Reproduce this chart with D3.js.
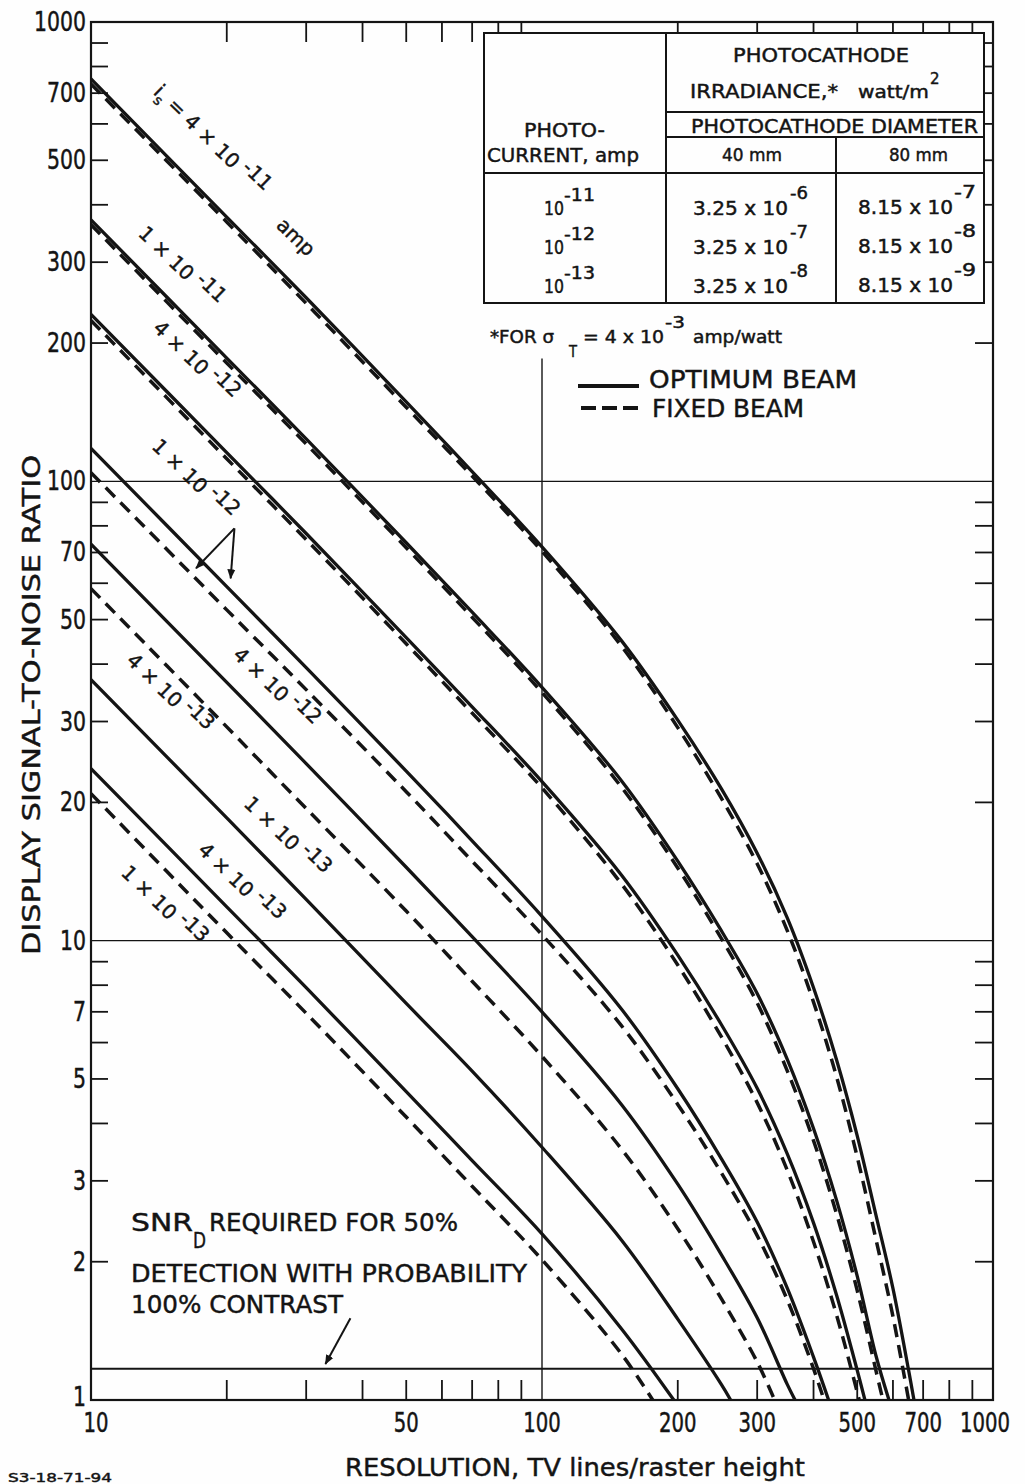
<!DOCTYPE html>
<html><head><meta charset="utf-8">
<script src="https://cdn.jsdelivr.net/npm/d3@7"></script>
<style>
html,body{margin:0;padding:0;background:#fff;}
svg{display:block;}
svg text{stroke:#141414;stroke-width:0.45px;}
</style></head><body>
<svg id="chart" width="1025" height="1484"></svg>
<script>
// ---------------- DATA ----------------
// Each series: [resolution (TV lines/raster height), display SNR]
const optA = [[10,752],[20,376],[30,251],[50,149],[70,105],[100,72],[150,45],[200,30.2],[250,21.4],[300,15.5],[350,11.2],[400,7.9],[450,5.5],[500,3.76],[550,2.53],[600,1.75],[650,1.16],[668,1.0]];
const fixA = [[10,733],[20,367],[30,244],[50,145],[70,102.7],[100,70.4],[150,43.8],[200,29.1],[250,20.4],[300,14.7],[350,10.5],[400,7.35],[450,5.05],[500,3.38],[550,2.24],[600,1.52],[650,1.0]];
const optB = [[10,371],[20,185.5],[30,123.7],[50,73.5],[70,51.9],[100,35.6],[150,22.3],[200,14.9],[250,10.5],[300,7.67],[350,5.51],[400,3.9],[450,2.72],[500,1.86],[550,1.25],[588,1.0]];
const fixB = [[10,362],[20,181],[30,120.6],[50,71.7],[70,50.6],[100,34.7],[150,21.6],[200,14.4],[250,10.1],[300,7.32],[350,5.2],[400,3.67],[450,2.54],[500,1.73],[550,1.16],[570,1.0]];
const optC = [[10,231],[20,115.5],[30,77],[50,45.7],[70,32.3],[100,22.2],[150,13.9],[200,9.3],[250,6.56],[300,4.77],[350,3.43],[400,2.43],[450,1.69],[500,1.16],[520,1.0]];
const fixC = [[10,224],[20,112],[30,74.7],[50,44.3],[70,31.3],[100,21.5],[150,13.3],[200,8.85],[250,6.17],[300,4.44],[350,3.16],[400,2.21],[450,1.53],[500,1.04],[505,1.0]];
const optD = [[10,118],[20,59],[30,39.3],[50,23.4],[70,16.5],[100,11.3],[150,7.1],[200,4.76],[250,3.35],[300,2.44],[350,1.75],[400,1.24],[432,1.0]];
const fixD = [[10,104.4],[20,52.5],[30,35.2],[50,21.1],[70,14.9],[100,10.3],[150,6.53],[200,4.4],[250,3.12],[300,2.28],[350,1.65],[400,1.17],[422,1.0]];
const optE = [[10,73],[20,36.5],[30,24.3],[50,14.45],[70,10.2],[100,7.0],[150,4.4],[200,2.95],[250,2.07],[300,1.51],[350,1.08],[364,1.0]];
const fixE = [[10,58.4],[20,29.2],[30,19.4],[50,11.6],[70,8.16],[100,5.6],[150,3.52],[200,2.36],[250,1.66],[300,1.21],[328,1.0]];
const optF = [[10,37],[20,18.5],[30,12.3],[50,7.3],[70,5.2],[100,3.55],[150,2.23],[200,1.5],[250,1.08],[262,1.0]];
const optG = [[10,23.7],[20,11.85],[30,7.9],[50,4.69],[70,3.32],[100,2.3],[150,1.43],[196,1.0]];
const fixG = [[10,20.9],[20,10.4],[30,6.95],[50,4.13],[70,2.92],[100,2.02],[150,1.26],[176,1.0]];

const xTickLabels = [10,50,100,200,300,500,700,1000];
const yTickLabels = [1,2,3,5,7,10,20,30,50,70,100,200,300,500,700,1000];
const snrRequired = 1.17;

// curve labels: [resolution, SNR, base text, exponent]
const curveLabels = [
  [15.4, 286, "1 × 10", "-11"],
  [16.6, 178, "4 × 10", "-12"],
  [16.5, 98.4, "1 × 10", "-12"],
  [25.0, 34.6, "4 × 10", "-12"],
  [14.5, 33.6, "4 × 10", "-13"],
  [26.4, 16.4, "1 × 10", "-13"],
  [20.9, 13.0, "4 × 10", "-13"],
  [14.1, 11.6, "1 × 10", "-13"]
];
const mainLabelPos = [18.0, 540];
const ampLabelPos = [27.8, 332];
const arrowApex = [20.8, 79];
const arrowTips = [[17.1, 64.7],[20.4, 61.5]];
const snrArrow = [[37.6, 1.507],[33.1, 1.198]];

const tableCurrents = ["-11","-12","-13"];
const table40 = [["3.25 x 10","-6"],["3.25 x 10","-7"],["3.25 x 10","-8"]];
const table80 = [["8.15 x 10","-7"],["8.15 x 10","-8"],["8.15 x 10","-9"]];

// ---------------- DRAWING ----------------
const svg = d3.select("#chart");
const INK = "#141414";
const FONT = "'DejaVu Sans', 'Liberation Sans', sans-serif";
const NARROW = "'Liberation Sans Narrow', 'DejaVu Sans Condensed', 'Liberation Sans', sans-serif";

const x = d3.scaleLog().domain([10,1000]).range([91,993]);
const y = d3.scaleLog().domain([1,1000]).range([1400,22]);
const [x0,x1] = x.range(), [y0,y1] = y.range();

svg.append("rect").attr("width",1025).attr("height",1484).attr("fill","#fefefe");

const defs = svg.append("defs");
defs.append("clipPath").attr("id","plot")
  .append("rect").attr("x",x0).attr("y",y1).attr("width",x1-x0).attr("height",y0-y1);
defs.append("marker").attr("id","ah").attr("viewBox","0 0 10 10").attr("refX",9).attr("refY",5)
  .attr("markerWidth",10).attr("markerHeight",10).attr("markerUnits","userSpaceOnUse").attr("orient","auto")
  .append("path").attr("d","M0,1 L10,5 L0,9 z").attr("fill",INK);

// gridlines
const grid = svg.append("g").attr("stroke",INK).attr("stroke-width",1.4);
[100,10].forEach(v => grid.append("line").attr("x1",x0).attr("x2",x1).attr("y1",y(v)).attr("y2",y(v)));
grid.append("line").attr("x1",x(100)).attr("x2",x(100)).attr("y1",y0).attr("y2",y(185));
svg.append("line").attr("x1",x0).attr("x2",x1).attr("y1",y(snrRequired)).attr("y2",y(snrRequired))
  .attr("stroke",INK).attr("stroke-width",2);

// curves
const line = d3.line().x(d=>x(d[0])).y(d=>y(d[1])).curve(d3.curveCatmullRom.alpha(0.5));
const curves = svg.append("g").attr("clip-path","url(#plot)").attr("fill","none").attr("stroke",INK);
[optA,optB,optC,optD,optE,optF,optG].forEach(s =>
  curves.append("path").attr("d",line(s)).attr("stroke-width",3.3));
[fixA,fixB,fixC,fixD,fixE,fixG].forEach(s =>
  curves.append("path").attr("d",line(s)).attr("stroke-width",3.5).attr("stroke-dasharray","13,8"));

// axes frame & ticks
svg.append("rect").attr("x",x0).attr("y",y1).attr("width",x1-x0).attr("height",y0-y1)
  .attr("fill","none").attr("stroke",INK).attr("stroke-width",2.2);
const ticks = svg.append("g").attr("stroke",INK).attr("stroke-width",1.8);
const minorX = [];
[10,100].forEach(d => { for (let k=2;k<=9;k++) minorX.push(d*k); });
minorX.forEach(v => {
  ticks.append("line").attr("x1",x(v)).attr("x2",x(v)).attr("y1",y0).attr("y2",y0-20);
  ticks.append("line").attr("x1",x(v)).attr("x2",x(v)).attr("y1",y1).attr("y2",y1+20);
});
const minorY = [];
[1,10,100].forEach(d => { for (let k=2;k<=9;k++) minorY.push(d*k); });
minorY.forEach(v => {
  ticks.append("line").attr("x1",x0).attr("x2",x0+17).attr("y1",y(v)).attr("y2",y(v));
  ticks.append("line").attr("x1",x1).attr("x2",x1-18).attr("y1",y(v)).attr("y2",y(v));
});

// tick labels
svg.append("g").selectAll("text").data(xTickLabels).join("text")
  .attr("x",d=>x(d)+(d===10?5:(d===1000?-8:0))).attr("y",1432).attr("text-anchor","middle")
  .attr("font-family",NARROW).attr("font-size",26).attr("fill",INK)
  .attr("textLength",d=>String(d).length*12.5).attr("lengthAdjust","spacingAndGlyphs")
  .text(d=>d);
svg.append("g").selectAll("text").data(yTickLabels).join("text")
  .attr("x",86).attr("y",d=>y(d)+(d===1?6:9)).attr("text-anchor","end")
  .attr("font-family",NARROW).attr("font-size",27).attr("fill",INK)
  .attr("textLength",d=>String(d).length*13).attr("lengthAdjust","spacingAndGlyphs")
  .text(d=>d);

// axis titles
svg.append("text").attr("transform","translate(40,705) rotate(-90)").attr("text-anchor","middle")
  .attr("font-family",FONT).attr("font-size",24).attr("fill",INK)
  .attr("textLength",500).attr("lengthAdjust","spacingAndGlyphs")
  .text("DISPLAY SIGNAL-TO-NOISE RATIO");
svg.append("text").attr("x",575).attr("y",1476).attr("text-anchor","middle")
  .attr("font-family",FONT).attr("font-size",25).attr("fill",INK)
  .attr("textLength",460).attr("lengthAdjust","spacingAndGlyphs")
  .text("RESOLUTION, TV lines/raster height");
svg.append("text").attr("x",8).attr("y",1482).attr("font-family",FONT).attr("font-size",13).attr("fill",INK)
  .attr("textLength",104).attr("lengthAdjust","spacingAndGlyphs").text("S3-18-71-94");

// curve labels
const ANG = 44;
function rotLabel(pos, base, exp) {
  const t = svg.append("text")
    .attr("transform",`translate(${x(pos[0])},${y(pos[1])}) rotate(${ANG})`)
    .attr("text-anchor","middle").attr("font-family",FONT).attr("font-size",20).attr("fill",INK);
  t.append("tspan").text(base);
  t.append("tspan").attr("dy",-7).text(" " + exp);
  return t;
}
curveLabels.forEach(d => rotLabel([d[0],d[1]], d[2], d[3]));
{
  const t = svg.append("text")
    .attr("transform",`translate(${x(mainLabelPos[0])},${y(mainLabelPos[1])}) rotate(${ANG})`)
    .attr("text-anchor","middle").attr("font-family",FONT).attr("font-size",20).attr("fill",INK);
  t.append("tspan").text("i");
  t.append("tspan").attr("dy",6).attr("font-size",14).text("s");
  t.append("tspan").attr("dy",-6).text(" = 4 × 10");
  t.append("tspan").attr("dy",-7).text(" -11");
  svg.append("text")
    .attr("transform",`translate(${x(ampLabelPos[0])},${y(ampLabelPos[1])}) rotate(${ANG})`)
    .attr("text-anchor","middle").attr("font-family",FONT).attr("font-size",20).attr("fill",INK)
    .text("amp");
}

// arrows for 1x10-12
arrowTips.forEach(tp => svg.append("line")
  .attr("x1",x(arrowApex[0])).attr("y1",y(arrowApex[1])).attr("x2",x(tp[0])).attr("y2",y(tp[1]))
  .attr("stroke",INK).attr("stroke-width",2).attr("marker-end","url(#ah)"));
svg.append("line").attr("x1",x(snrArrow[0][0])).attr("y1",y(snrArrow[0][1]))
  .attr("x2",x(snrArrow[1][0])).attr("y2",y(snrArrow[1][1]))
  .attr("stroke",INK).attr("stroke-width",2).attr("marker-end","url(#ah)");

// SNR required annotation
function txt(xp, yp, s, size, len, anchor) {
  const t = svg.append("text").attr("x",xp).attr("y",yp).attr("font-family",FONT)
    .attr("font-size",size).attr("fill",INK).text(s);
  if (len) t.attr("textLength",len).attr("lengthAdjust","spacingAndGlyphs");
  if (anchor) t.attr("text-anchor",anchor);
  return t;
}
txt(131,1231,"SNR",25,62);
txt(193,1248,"D",22,13);
txt(209,1231,"REQUIRED FOR 50%",25,249);
txt(131,1282,"DETECTION WITH PROBABILITY",25,396);
txt(131,1313,"100% CONTRAST",25,212);

// table (white box hides gridline/ticks under it)
svg.append("rect").attr("x",484).attr("y",33).attr("width",500).attr("height",270)
  .attr("fill","#fefefe").attr("stroke",INK).attr("stroke-width",2);
const tl = svg.append("g").attr("stroke",INK).attr("stroke-width",2);
tl.append("line").attr("x1",666).attr("x2",666).attr("y1",33).attr("y2",303);
tl.append("line").attr("x1",666).attr("x2",984).attr("y1",112).attr("y2",112);
tl.append("line").attr("x1",666).attr("x2",984).attr("y1",137).attr("y2",137);
tl.append("line").attr("x1",836).attr("x2",836).attr("y1",137).attr("y2",303);
tl.append("line").attr("x1",484).attr("x2",984).attr("y1",173).attr("y2",173);

txt(821,62,"PHOTOCATHODE",19,176,"middle");
txt(690,98,"IRRADIANCE,*",19,148);
txt(858,98,"watt/m",17,71);
txt(930,84,"2",15);
txt(691,133,"PHOTOCATHODE DIAMETER",19,287);
txt(524,137,"PHOTO-",19,81);
txt(487,162,"CURRENT, amp",19,152);
txt(722,161,"40 mm",17,60);
txt(889,161,"80 mm",17,59);
const rowBase = [215,254,293];
tableCurrents.forEach((e,i) => { txt(544,rowBase[i],"10",19,20); txt(564,rowBase[i]-14,e,17,31); });
table40.forEach((d,i) => { txt(693,rowBase[i],d[0],19,95); txt(790,rowBase[i]-16,d[1],17,18); });
table80.forEach((d,i) => { txt(858,rowBase[i]-1,d[0],19,95); txt(954,rowBase[i]-17,d[1],17,22); });

// footnote
txt(490,343,"*FOR σ",17,64);
txt(569,357,"T",16,8);
txt(583,343,"= 4 x 10",17,81);
txt(665,328,"-3",15,20);
txt(693,343,"amp/watt",17,89);

// legend
svg.append("line").attr("x1",578).attr("x2",639).attr("y1",386).attr("y2",386)
  .attr("stroke",INK).attr("stroke-width",4);
svg.append("line").attr("x1",581).attr("x2",639).attr("y1",408).attr("y2",408)
  .attr("stroke",INK).attr("stroke-width",4).attr("stroke-dasharray","15,6");
txt(649,388,"OPTIMUM BEAM",24,208);
txt(652,417,"FIXED BEAM",24,152);
</script>
</body></html>
